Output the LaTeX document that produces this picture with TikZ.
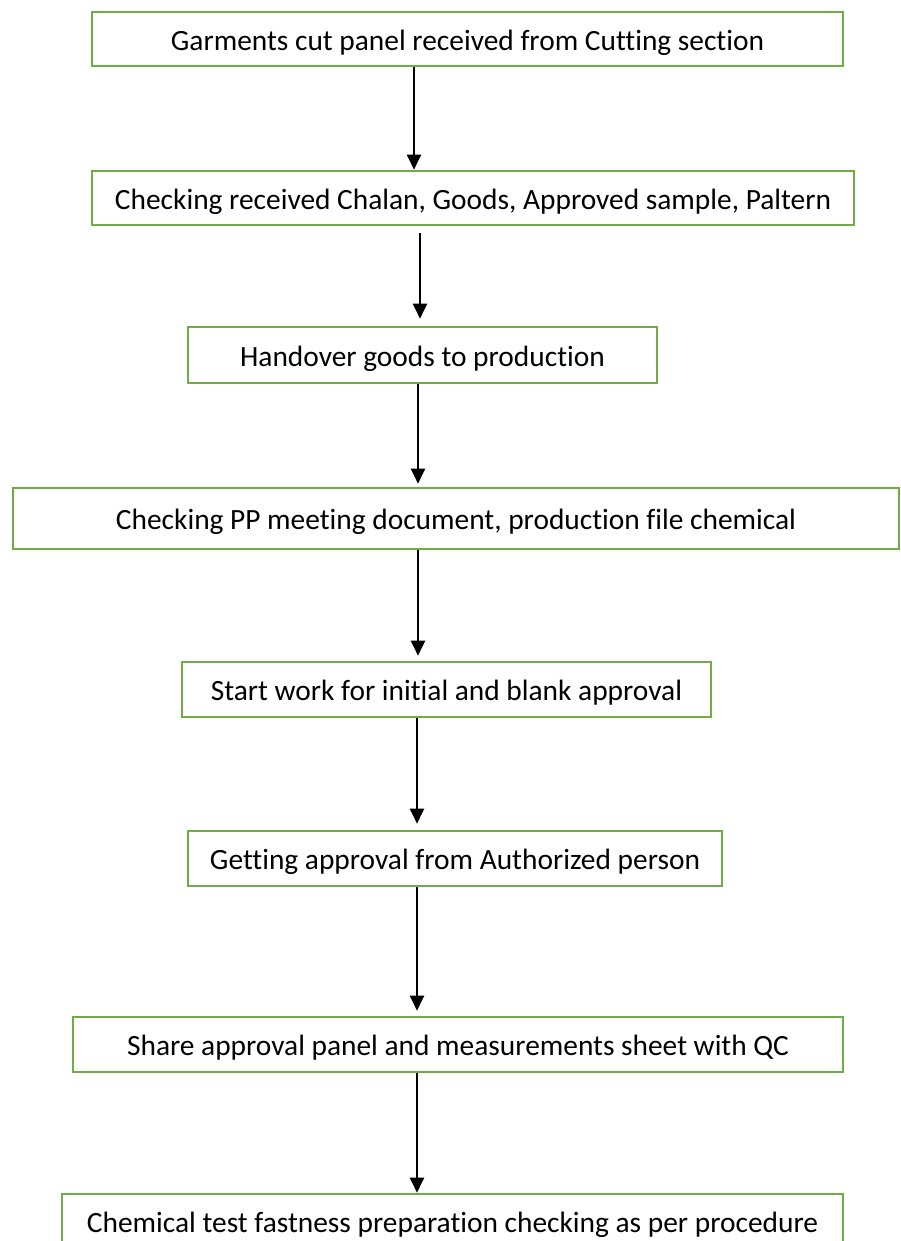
\documentclass[tikz,border=0pt]{standalone}
\usepackage{fontspec}
\setmainfont{Carlito}[Ligatures={NoCommon}]
\usetikzlibrary{arrows.meta}
\definecolor{boxgreen}{HTML}{70AD47}
\tikzset{
  stepbox/.style={draw=boxgreen, line width=1.3pt, fill=white, rectangle, inner sep=0pt,
    text height=12.6pt, text depth=1.2pt,
    font=\fontsize{14.7pt}{17pt}\selectfont, text=black},
  flowarrow/.style={draw=black, line width=1pt, -{Triangle[length=7.5pt,width=7pt]}}
}
\begin{document}
\begin{tikzpicture}[x=0.5pt,y=-0.5pt]
\clip (0,0) rectangle (900,1241);
\useasboundingbox (0,0) rectangle (900,1241);
\fill[white] (0,0) rectangle (900,1241);
\node[stepbox, minimum width=375.5pt, minimum height=27pt] (b1) at (467.5,39) {Garments cut panel received from Cutting section};
\node[stepbox, minimum width=381pt, minimum height=27pt] (b2) at (473,198) {Checking received Chalan, Goods, Approved sample, Paltern};
\node[stepbox, minimum width=234.5pt, minimum height=28pt] (b3) at (422.5,355) {Handover goods to production};
\node[stepbox, minimum width=443pt, minimum height=30.5pt] (b4) at (456,518.5) {Checking PP meeting document, production file chemical};
\node[stepbox, minimum width=264.5pt, minimum height=27.5pt] (b5) at (446.5,689.5) {Start work for initial and blank approval};
\node[stepbox, minimum width=267pt, minimum height=27.5pt] (b6) at (455,858.5) {Getting approval from Authorized person};
\node[stepbox, minimum width=385pt, minimum height=27.5pt] (b7) at (458,1044.5) {Share approval panel and measurements sheet with QC};
\node[stepbox, minimum width=390.5pt, minimum height=27.5pt] (b8) at (452.5,1221.5) {Chemical test fastness preparation checking as per procedure};
\coordinate (a1) at (414,0);
\coordinate (a2) at (420,0);
\coordinate (a3) at (418,0);
\coordinate (a4) at (417,0);
\draw[flowarrow] (b1.south -| a1) -- (b2.north -| a1);
\draw[flowarrow, shorten <=3.5pt, shorten >=3.5pt] (b2.south -| a2) -- (b3.north -| a2);
\draw[flowarrow, shorten >=1.5pt] (b3.south -| a3) -- (b4.north -| a3);
\draw[flowarrow, shorten >=2.5pt] (b4.south -| a3) -- (b5.north -| a3);
\draw[flowarrow, shorten >=3pt] (b5.south -| a4) -- (b6.north -| a4);
\draw[flowarrow, shorten >=2.5pt] (b6.south -| a4) -- (b7.north -| a4);
\draw[flowarrow] (b7.south -| a4) -- (b8.north -| a4);
\end{tikzpicture}
\end{document}
